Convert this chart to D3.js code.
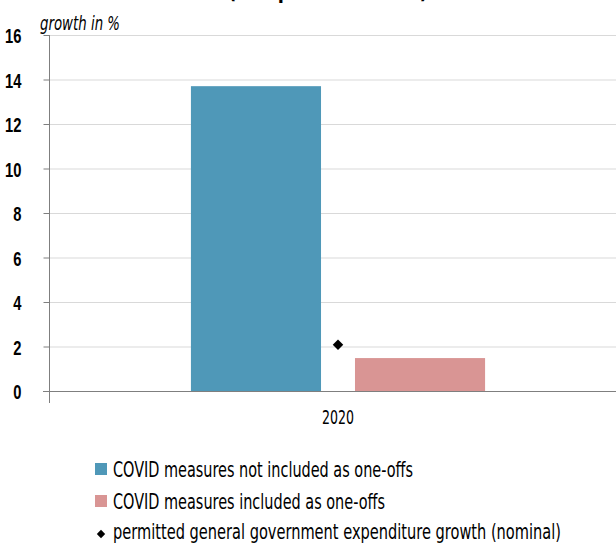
<!DOCTYPE html>
<html><head><meta charset="utf-8">
<script src="https://cdn.jsdelivr.net/npm/d3@7"></script>
<style>
body{margin:0;background:#fff;}
svg{display:block;font-family:"DejaVu Sans Condensed","DejaVu Sans",sans-serif;font-stretch:condensed;}
</style></head>
<body><svg id="c" width="616" height="545"></svg>
<script>
const categories = ["2020"];
const seriesNames = ["COVID measures not included as one-offs","COVID measures included as one-offs"];
const seriesValues = [[13.7],[1.48]];
const seriesColors = ["#4f98b8","#d99594"];
const markerName = "permitted general government expenditure growth (nominal)";
const markerValues = [2.08];
const yTicks = [0,2,4,6,8,10,12,14,16];

(function(){
const svg = d3.select("#c");
const mLeft = 49, mRight = 627, mTop = 35, mBottom = 391;
const y = d3.scaleLinear().domain([0,16]).range([mBottom, mTop]);
const x0 = d3.scaleBand().domain(categories).range([mLeft, mRight]).paddingInner(0).paddingOuter(0.4825);
const x1 = d3.scaleBand().domain(d3.range(seriesNames.length)).range([0, x0.bandwidth()]).paddingInner(0.207).paddingOuter(0);

// title (cut off at top, as in the reference)
svg.append("text").attr("x", 328).attr("y", -2).attr("text-anchor","middle")
  .attr("font-size", 24).attr("font-weight","bold").attr("fill","#000")
  .attr("textLength", 200).attr("lengthAdjust","spacingAndGlyphs").text("(compared to 2019)");

// gridlines
svg.append("g").selectAll("line").data(yTicks.filter(d=>d>0)).join("line")
  .attr("x1", mLeft).attr("x2", 616).attr("y1", d=>y(d)+0.5).attr("y2", d=>y(d)+0.5)
  .attr("stroke","#d9d9d9").attr("stroke-width",1);

// bars
const g = svg.append("g");
categories.forEach((c, ci) => {
  seriesNames.forEach((s, si) => {
    g.append("rect").attr("x", x0(c) + x1(si)).attr("width", x1.bandwidth())
      .attr("y", y(seriesValues[si][ci])).attr("height", y(0) - y(seriesValues[si][ci]))
      .attr("fill", seriesColors[si]);
  });
});

// marker
const diamond = d3.symbol().type(d3.symbolDiamond2).size(70);
categories.forEach((c, ci) => {
  svg.append("path").attr("d", diamond())
    .attr("transform", `translate(${x0(c)+x0.bandwidth()/2},${y(markerValues[ci])})`).attr("fill","#000");
});

// y axis
const yAxis = d3.axisLeft(y).tickValues(yTicks).tickSize(6).tickPadding(22).tickFormat(d3.format("d"));
const ya = svg.append("g").attr("transform", `translate(${mLeft}.5,0)`).call(yAxis);
ya.select(".domain").attr("d", `M0,${mTop}V${mBottom+12}`).attr("stroke","#7f7f7f");
ya.selectAll(".tick line").attr("stroke","#7f7f7f");
ya.selectAll(".tick text").attr("font-size", 21).attr("font-weight","bold").attr("fill","#000")
  .attr("font-family","inherit").attr("dy","0.36em")
  .attr("textLength", d => String(d).length * 8.2).attr("lengthAdjust","spacingAndGlyphs");

// x axis line
svg.append("line").attr("x1", mLeft-6).attr("x2", 616).attr("y1", mBottom+0.5).attr("y2", mBottom+0.5).attr("stroke","#7f7f7f").attr("stroke-width",1.2);
svg.append("g").selectAll("text").data(categories).join("text")
  .attr("x", d=>x0(d)+x0.bandwidth()/2).attr("y", 424).attr("text-anchor","middle")
  .attr("font-size", 19).attr("fill","#000")
  .attr("textLength", 32).attr("lengthAdjust","spacingAndGlyphs").text(d=>d);

// axis title
svg.append("text").attr("x", 40).attr("y", 30).attr("font-size", 20).attr("font-style","italic").attr("fill","#000")
  .attr("textLength", 80).attr("lengthAdjust","spacingAndGlyphs").text("growth in %");

// legend
const legendWidths = [300, 272];
const lg = svg.append("g");
seriesNames.forEach((s, i) => {
  const base = 477 + i*32;
  lg.append("rect").attr("x", 95).attr("y", base-14).attr("width", 12).attr("height", 12).attr("fill", seriesColors[i]);
  lg.append("text").attr("x", 113).attr("y", base).attr("font-size", 21).attr("fill","#000")
    .attr("textLength", legendWidths[i]).attr("lengthAdjust","spacingAndGlyphs").text(s);
});
lg.append("path").attr("d", d3.symbol().type(d3.symbolDiamond2).size(45)()).attr("transform","translate(101,534)").attr("fill","#000");
lg.append("text").attr("x", 113).attr("y", 539).attr("font-size", 21).attr("fill","#000")
  .attr("textLength", 448).attr("lengthAdjust","spacingAndGlyphs").text(markerName);
})();
</script></body></html>
